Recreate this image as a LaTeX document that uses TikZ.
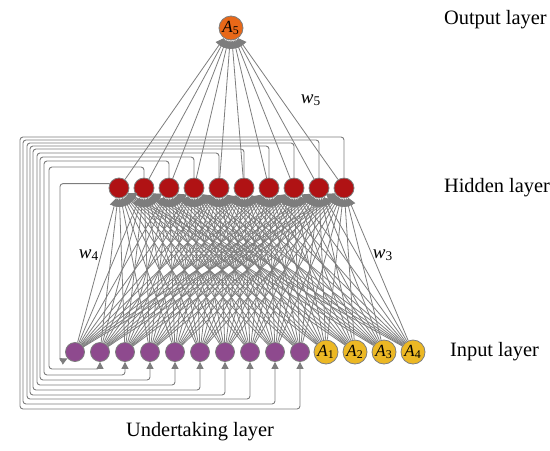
\documentclass[tikz,border=0pt]{standalone}
\usepackage{fontspec}
\setmainfont{Liberation Serif}
\usetikzlibrary{arrows.meta}
\definecolor{linegray}{RGB}{125,125,125}
\definecolor{outorange}{RGB}{232,104,24}
\definecolor{hidred}{RGB}{176,18,20}
\definecolor{ctxpurple}{RGB}{142,74,142}
\definecolor{inyellow}{RGB}{236,184,36}
\begin{document}
\begin{tikzpicture}[x=0.5pt,y=-0.5pt,
  neuron/.style={circle,draw=linegray,line width=0.4pt,inner sep=0pt},
  link/.style={draw=linegray,line width=0.4pt,-{Triangle[length=4pt,width=4.5pt]}},
  feedback/.style={draw=linegray,line width=0.45pt,rounded corners=1.5pt,-{Triangle[length=3.5pt,width=3.5pt]}},
  layername/.style={anchor=west,font=\fontsize{10.2}{12}\selectfont}]
\useasboundingbox (0,0) rectangle (550,450);

\node[neuron,fill=outorange,minimum size=12pt] (out) at (231,28) {\fontsize{8.5}{9}\selectfont\textit{A}\textsubscript{5}};
\foreach \i in {1,...,10}{
  \node[neuron,fill=hidred,minimum size=10pt] (h\i) at ({119+25*(\i-1)},188) {};
  \node[neuron,fill=ctxpurple,minimum size=9.5pt] (c\i) at ({75+25*(\i-1)},352) {};
}
\foreach \i in {1,...,4}
  \node[neuron,fill=inyellow,minimum size=12pt] (a\i) at ({326+29*(\i-1)},352) {\fontsize{8.5}{9}\selectfont\textit{A}\textsubscript{\i}};

\foreach \h in {1,...,10}{
  \draw[link] (h\h) -- (out);
  \foreach \c in {1,...,10} \draw[link] (c\c) -- (h\h);
  \foreach \a in {1,...,4} \draw[link] (a\a) -- (h\h);
}

\draw[feedback] (h1.155) -| (60,362) -- (c1.220);
\foreach \i/\yt/\xl/\yb in {2/167/49/369,3/161/44/375,4/157/40/380,5/153/37/385,
  6/149/33/390,7/146/30/395,8/143/27/399,9/140/23/404,10/137/20/409}
  \draw[feedback] (h\i.north) |- (\xl,\yt) -- (\xl,\yb) -| (c\i.south);

\node[font=\fontsize{9.5}{10}\selectfont] (w5) at (311,100) {\textit{w}\textsubscript{5}};
\node[font=\fontsize{9.5}{10}\selectfont] (w4) at (89,255) {\textit{w}\textsubscript{4}};
\node[font=\fontsize{9.5}{10}\selectfont] (w3) at (383,255) {\textit{w}\textsubscript{3}};

\node[layername] (lout) at (437,20) {Output layer};
\node[layername] (lhid) at (437,188) {Hidden layer};
\node[layername] (linp) at (443,352) {Input layer};
\node[font=\fontsize{10.2}{12}\selectfont] (lund) at (200,432) {Undertaking layer};
\end{tikzpicture}
\end{document}
